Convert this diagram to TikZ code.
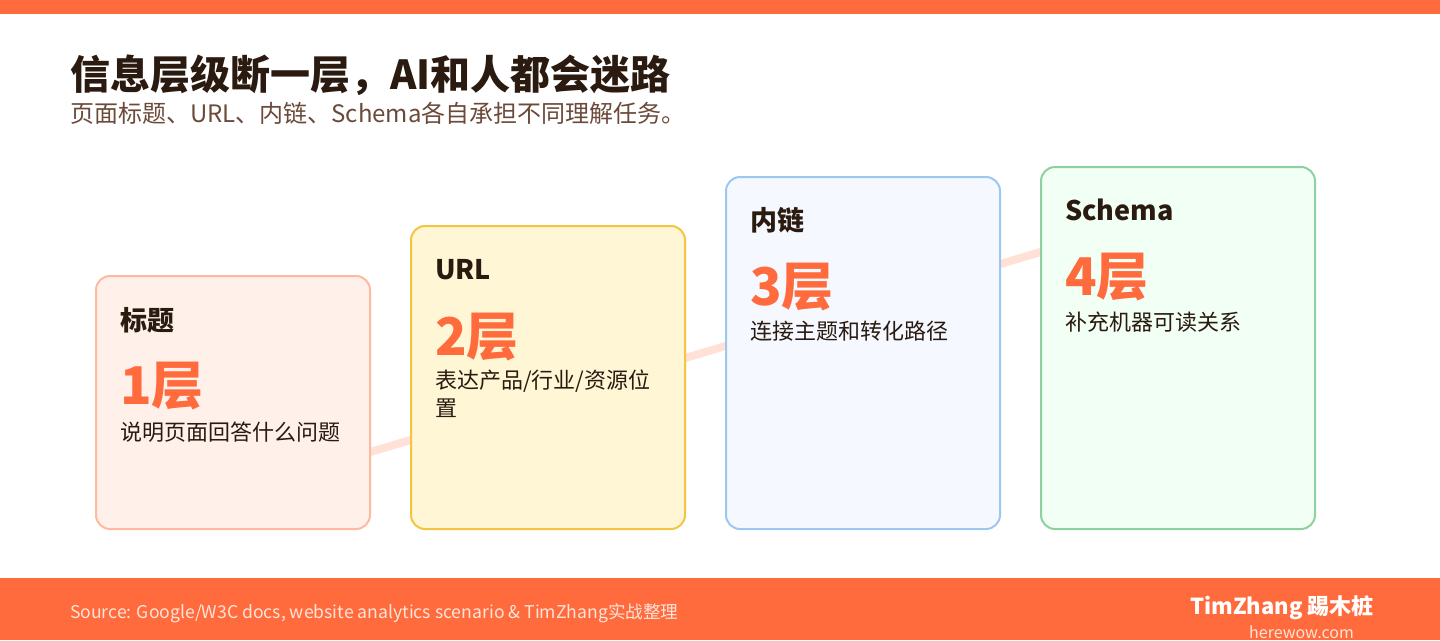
\documentclass[tikz,border=0pt]{standalone}
\usepackage{fontspec}
\setmainfont{Noto Sans CJK SC}
\definecolor{accent}{HTML}{FF6B3D}
\definecolor{titlec}{HTML}{2A1A10}
\definecolor{subc}{HTML}{6B4A3A}
\definecolor{linec}{HTML}{FFE1D7}
\definecolor{fillA}{HTML}{FFF0EA}\definecolor{drawA}{HTML}{FFB9A0}
\definecolor{fillB}{HTML}{FFF6D6}\definecolor{drawB}{HTML}{F4C542}
\definecolor{fillC}{HTML}{F5F9FF}\definecolor{drawC}{HTML}{9CC8F0}
\definecolor{fillD}{HTML}{F2FFF4}\definecolor{drawD}{HTML}{8ED1A0}
\definecolor{foottxt}{HTML}{FFE4D8}
\begin{document}
\begin{tikzpicture}[x=1pt,y=-1pt,
  txt/.style={inner sep=0pt,outer sep=0pt,anchor=west},
  cardbox/.style={rounded corners=14pt,line width=2pt},
  cardlabel/.style={txt,font=\fontsize{27}{30}\selectfont\bfseries,text=titlec},
  cardnum/.style={txt,font=\fontsize{52}{56}\selectfont\bfseries,text=accent},
  carddesc/.style={txt,font=\fontsize{22}{28}\selectfont,text=titlec,align=left},
]
\useasboundingbox (0,0) rectangle (1440,640);
\fill[white] (0,0) rectangle (1440,640);
\fill[accent] (0,0) rectangle (1440,14);
\fill[accent] (0,578) rectangle (1440,640);
% title
\node[txt,font=\fontsize{40}{44}\selectfont\bfseries,text=titlec] (title) at (70,75) {信息层级断一层，AI和人都会迷路};
\node[txt,font=\fontsize{24}{28}\selectfont,text=subc] (sub) at (70,113) {页面标题、URL、内链、Schema各自承担不同理解任务。};
% connector line
\coordinate (l1) at (233,493);
\coordinate (l4) at (1178,211);
\draw[linec,line width=8pt] (l1) -- (l4);
% cards
\draw[cardbox,fill=fillA,draw=drawA] (96,276) rectangle (370,529);
\draw[cardbox,fill=fillB,draw=drawB] (411,226) rectangle (685,529);
\draw[cardbox,fill=fillC,draw=drawC] (726,177) rectangle (1000,529);
\draw[cardbox,fill=fillD,draw=drawD] (1041,167) rectangle (1315,529);
% card 1
\node[cardlabel] (t1) at (120,320) {标题};
\node[cardnum] (n1) at (120,386) {1层};
\node[carddesc] (d1) at (120,432) {说明页面回答什么问题};
% card 2
\node[cardlabel] (t2) at (435,270) {URL};
\node[cardnum] (n2) at (435,337) {2层};
\node[carddesc,anchor=north west] (d2) at (435,370) {表达产品/行业/资源位\\置};
% card 3
\node[cardlabel] (t3) at (750,220) {内链};
\node[cardnum] (n3) at (750,287) {3层};
\node[carddesc] (d3) at (750,331) {连接主题和转化路径};
% card 4
\node[cardlabel] (t4) at (1065,210) {Schema};
\node[cardnum] (n4) at (1065,277) {4层};
\node[carddesc] (d4) at (1065,322) {补充机器可读关系};
% footer
\node[txt,font=\fontsize{17.6}{20}\selectfont,text=foottxt] (src) at (70,613) {Source: Google/W3C docs, website analytics scenario \& TimZhang实战整理};
\node[inner sep=0pt,anchor=east,font=\fontsize{22}{24}\selectfont\bfseries,text=white] (brand) at (1374,608) {TimZhang 踢木桩};
\node[inner sep=0pt,anchor=east,font=\fontsize{16}{18}\selectfont,text=foottxt] (site) at (1354,632) {herewow.com};
\end{tikzpicture}
\end{document}
